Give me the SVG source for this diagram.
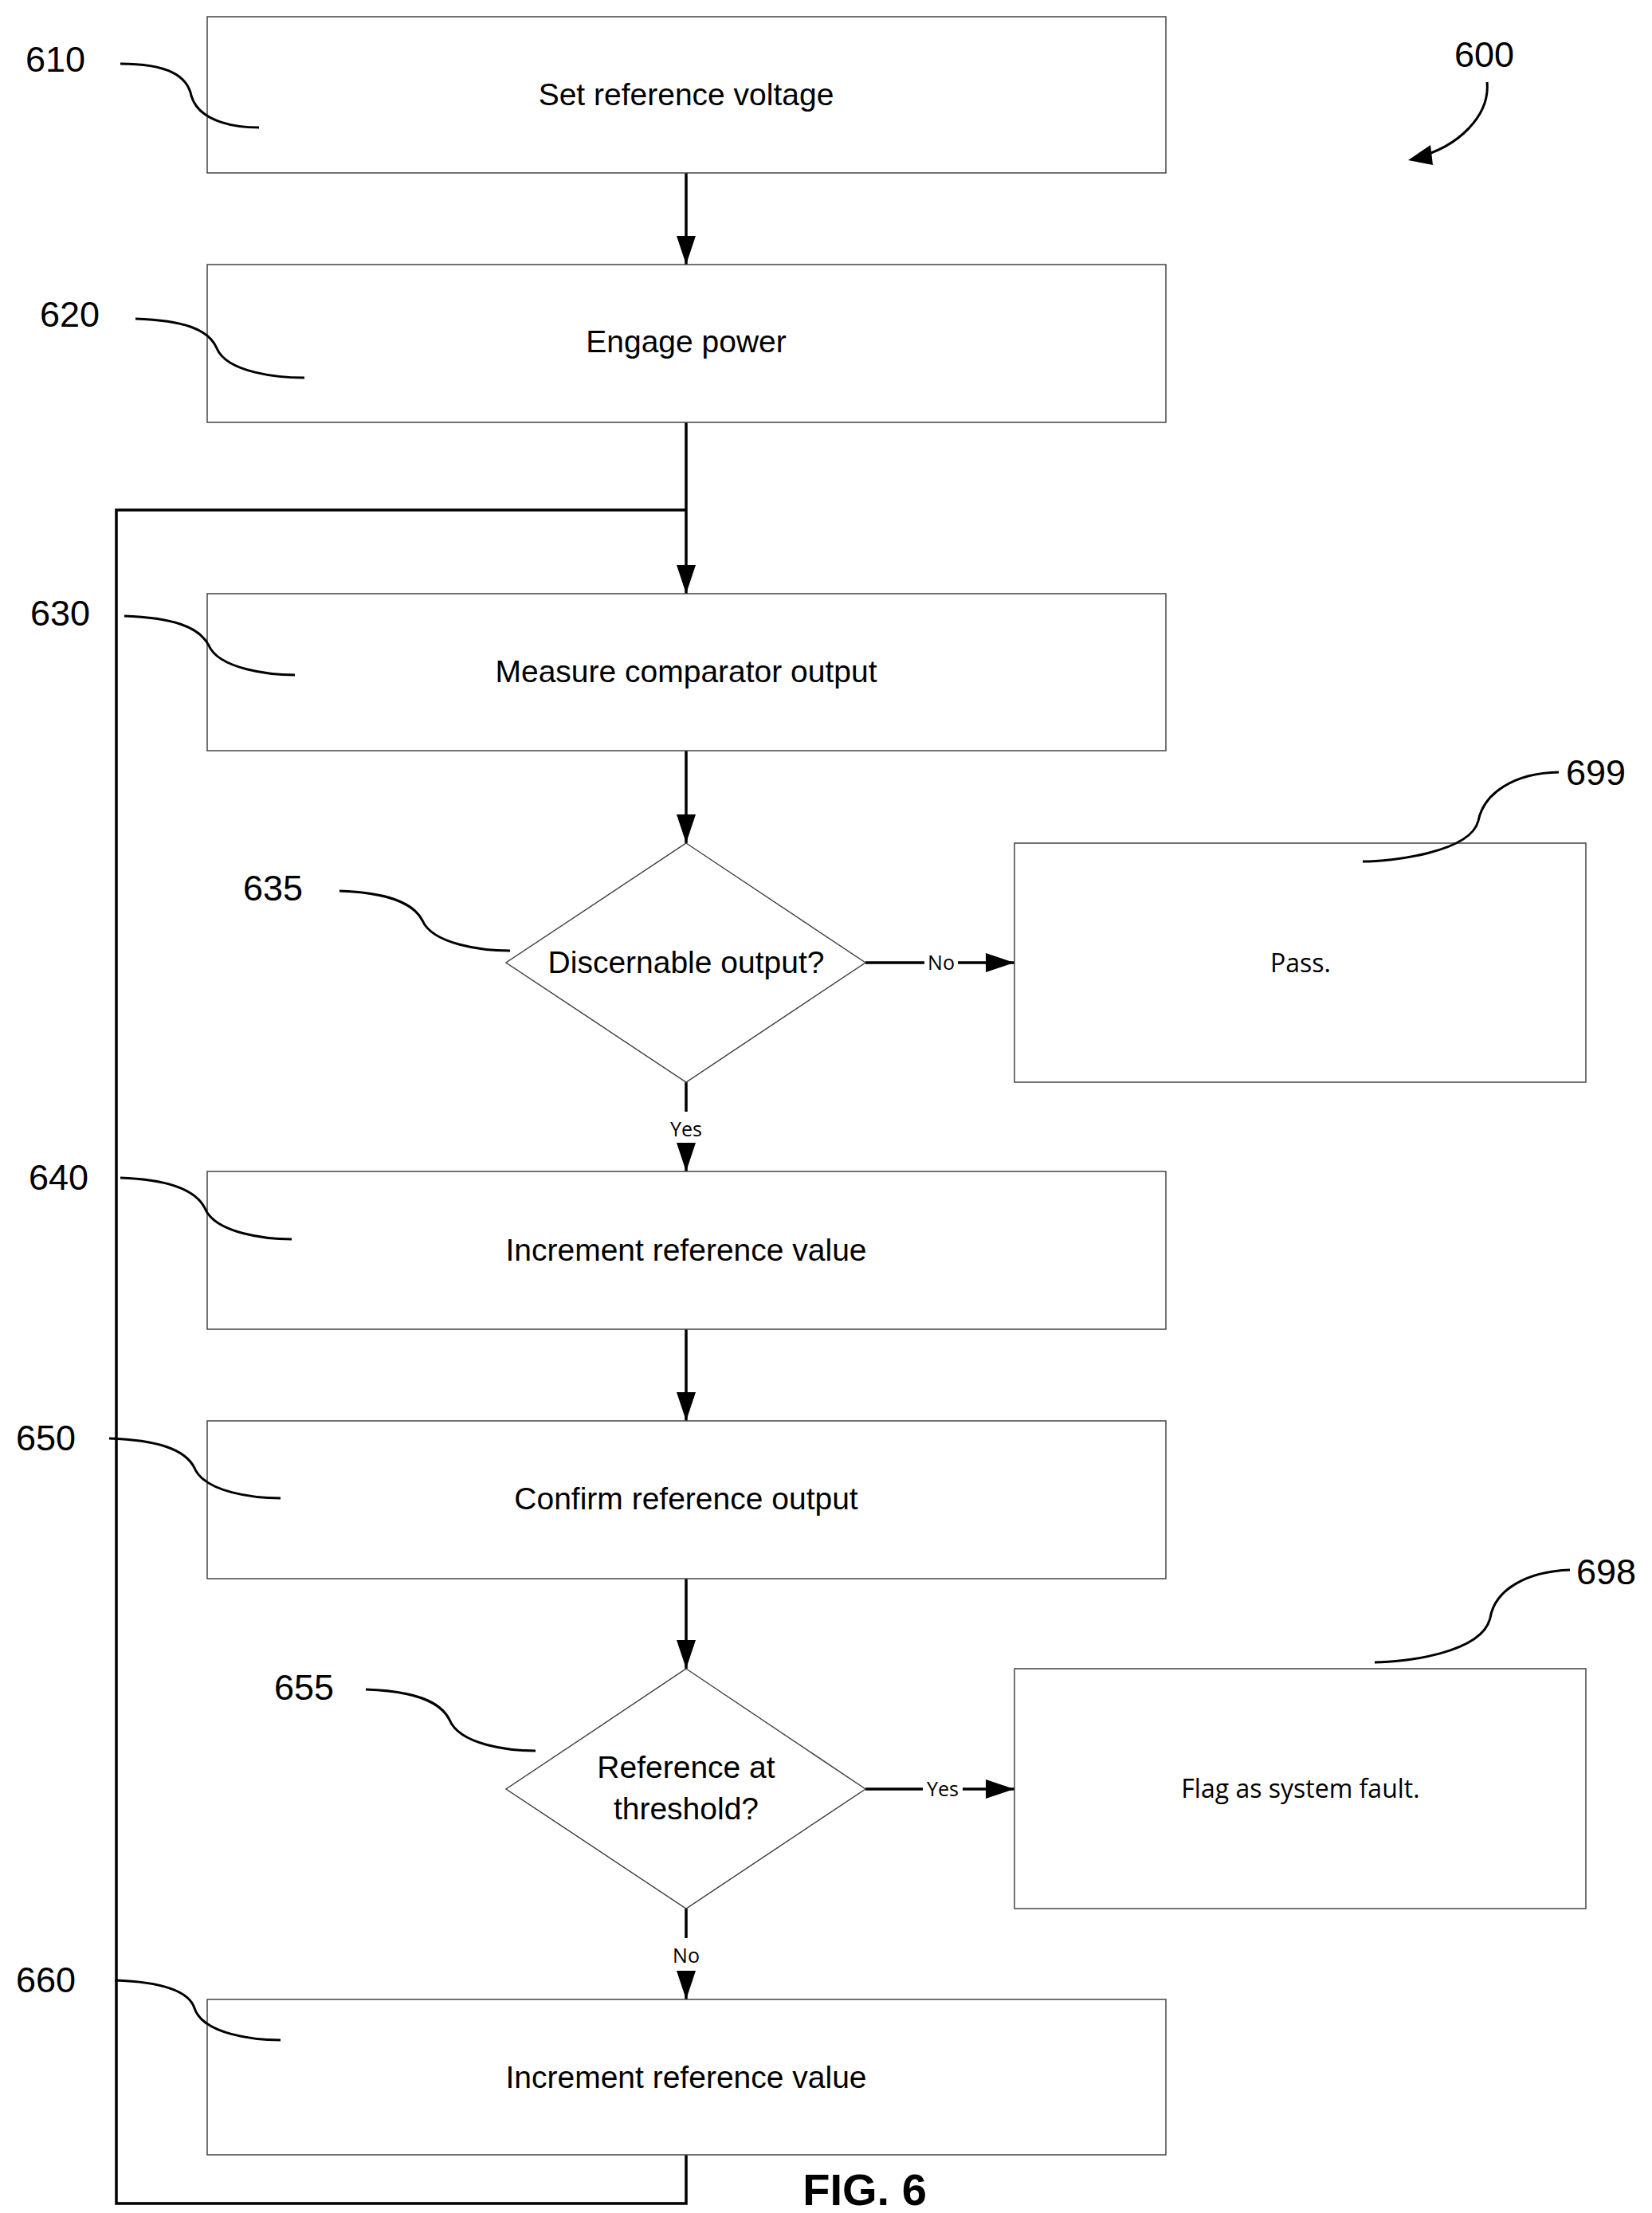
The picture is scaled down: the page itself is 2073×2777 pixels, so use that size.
<svg xmlns="http://www.w3.org/2000/svg" width="2073" height="2777" viewBox="0 0 2073 2777">
<style>
.box{fill:#fff;stroke:#444;stroke-width:1.5}
.c{fill:none;stroke:#000;stroke-width:3.5}
.ld{fill:none;stroke:#000;stroke-width:3}
.t{font-family:"Liberation Sans",Arial,sans-serif;font-size:39px;text-anchor:middle;fill:#000}
.t2{font-family:"Open Sans","Liberation Sans",sans-serif;font-size:32px;text-anchor:middle;fill:#000}
.sm{font-family:"Open Sans","Liberation Sans",sans-serif;font-size:25px;text-anchor:middle;fill:#000}
.n{font-family:"Liberation Sans",Arial,sans-serif;font-size:45px;fill:#000}
</style>
<defs>
<marker id="ah" viewBox="0 0 10 10" refX="10" refY="5" markerWidth="36" markerHeight="24" orient="auto" markerUnits="userSpaceOnUse" preserveAspectRatio="none"><path d="M0,0 L10,5 L0,10 z" fill="#000"/></marker>
</defs>
<g id="connectors">
<path class="c" d="M861,217 V332" marker-end="url(#ah)"/>
<path class="c" d="M861,530 V745" marker-end="url(#ah)"/>
<path class="c" d="M861,2704 V2765 H146 V640 H861"/>
<path class="c" d="M861,942 V1058" marker-end="url(#ah)"/>
<path class="c" d="M861,1358 V1395 M861,1440 V1470" marker-end="url(#ah)"/>
<path class="c" d="M1086,1208 H1160 M1202,1208 H1273" marker-end="url(#ah)"/>
<path class="c" d="M861,1668 V1783" marker-end="url(#ah)"/>
<path class="c" d="M861,1981 V2094" marker-end="url(#ah)"/>
<path class="c" d="M1086,2245 H1158 M1208,2245 H1273" marker-end="url(#ah)"/>
<path class="c" d="M861,2395 V2432 M861,2476 V2509" marker-end="url(#ah)"/>
<text class="sm" x="861" y="1426">Yes</text>
<text class="sm" x="1181" y="1217">No</text>
<text class="sm" x="1183" y="2254">Yes</text>
<text class="sm" x="861" y="2463">No</text>
</g>
<g id="n610"><rect class="box" x="260" y="21" width="1203" height="196"/><text class="t" x="861" y="132">Set reference voltage</text></g>
<g id="n620"><rect class="box" x="260" y="332" width="1203" height="198"/><text class="t" x="861" y="442">Engage power</text></g>
<g id="n630"><rect class="box" x="260" y="745" width="1203" height="197"/><text class="t" x="861" y="856">Measure comparator output</text></g>
<g id="n635"><polygon class="box" points="861,1058 1086,1208 861,1358 635,1208"/><text class="t" x="861" y="1221">Discernable output?</text></g>
<g id="n699"><rect class="box" x="1273" y="1058" width="717" height="300"/><text class="t2" x="1632" y="1220">Pass.</text></g>
<g id="n640"><rect class="box" x="260" y="1470" width="1203" height="198"/><text class="t" x="861" y="1582">Increment reference value</text></g>
<g id="n650"><rect class="box" x="260" y="1783" width="1203" height="198"/><text class="t" x="861" y="1894">Confirm reference output</text></g>
<g id="n655"><polygon class="box" points="861,2094 1086,2245 861,2395 635,2245"/><text class="t" x="861" y="2231">Reference at</text><text class="t" x="861" y="2283">threshold?</text></g>
<g id="n698"><rect class="box" x="1273" y="2094" width="717" height="301"/><text class="t2" x="1632" y="2256">Flag as system fault.</text></g>
<g id="n660"><rect class="box" x="260" y="2509" width="1203" height="195"/><text class="t" x="861" y="2620">Increment reference value</text></g>
<g id="labels">
<text class="n" x="32" y="90">610</text>
<path class="ld" d="M151,80 C210,80 235,95 240,120 C250,155 300,160 325,160"/>
<text class="n" x="50" y="410">620</text>
<path class="ld" d="M170,400 C230,402 262,413 272,437 C285,468 350,474 382,474"/>
<text class="n" x="38" y="785">630</text>
<path class="ld" d="M156,773 C215,775 250,786 262,810 C275,840 340,847 370,847"/>
<text class="n" x="305" y="1130">635</text>
<path class="ld" d="M426,1118 C485,1120 518,1132 530,1155 C543,1185 605,1193 640,1193"/>
<text class="n" x="36" y="1493">640</text>
<path class="ld" d="M151,1478 C210,1480 245,1492 257,1516 C270,1548 335,1555 366,1555"/>
<text class="n" x="20" y="1820">650</text>
<path class="ld" d="M137,1805 C196,1807 232,1818 244,1842 C257,1873 320,1880 352,1880"/>
<text class="n" x="344" y="2133">655</text>
<path class="ld" d="M459,2120 C518,2122 552,2134 564,2158 C577,2190 640,2197 672,2197"/>
<text class="n" x="20" y="2500">660</text>
<path class="ld" d="M144,2485 C203,2487 237,2498 244,2520 C255,2553 320,2560 352,2560"/>
<text class="n" x="1965" y="985">699</text>
<path class="ld" d="M1956,969 C1900,970 1862,995 1855,1030 C1845,1070 1745,1081 1710,1081"/>
<text class="n" x="1978" y="1988">698</text>
<path class="ld" d="M1970,1970 C1915,1972 1876,1995 1870,2030 C1860,2075 1760,2086 1725,2086"/>
<text class="n" x="1825" y="84">600</text>
<path class="ld" d="M1866,103 C1870,145 1830,185 1776,198"/>
<path d="M1767,201 L1795,182 L1798,207 z" fill="#000"/>
<text x="1085" y="2767" style="font-family:'Liberation Sans',Arial,sans-serif;font-size:56px;font-weight:bold" text-anchor="middle">FIG. 6</text>
</g>
</svg>
